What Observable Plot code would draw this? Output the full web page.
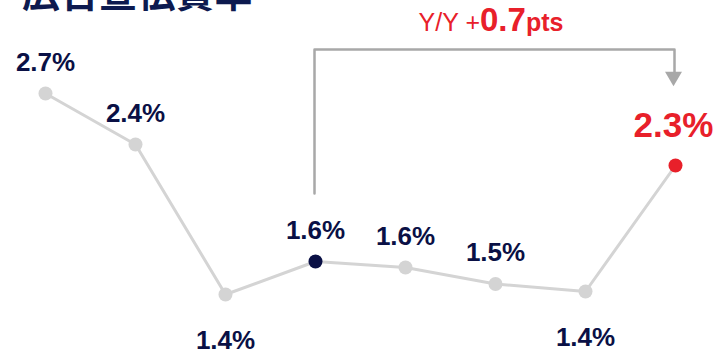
<!DOCTYPE html>
<html>
<head>
<meta charset="utf-8">
<script src="https://cdn.jsdelivr.net/npm/d3@7"></script>
<script src="https://cdn.jsdelivr.net/npm/@observablehq/plot@0.6"></script>
<style>
  html, body { margin: 0; padding: 0; background: #fff; overflow: hidden; }
  #wrap { position: relative; width: 717px; height: 353px; }
  #title {
    position: absolute; left: 22px; top: -28px; margin: 0; z-index: 2;
    font-family: "Noto Sans CJK JP", sans-serif; font-weight: 700;
    font-size: 38px; line-height: 1; color: #0d1a4f; white-space: nowrap; letter-spacing: 0.5px;
  }
  #chart { position: absolute; left: 0; top: 0; z-index: 1; }
</style>
</head>
<body>
<div id="wrap">
  <div id="title">広告宣伝費率</div>
  <div id="chart"></div>
</div>
<script>
// Data
const periods = [0, 1, 2, 3, 4, 5, 6, 7];
const values = [2.74, 2.40, 1.40, 1.62, 1.58, 1.47, 1.42, 2.26];
const highlightIndex = 3;   // comparison point (navy)
const latestIndex = 7;      // latest point (red)
const yoyDelta = 0.7;       // "Y/Y +0.7pts"

const NAVY = "#0a1045";
const RED = "#e8202a";
const GRAY = "#d4d4d4";
const BRACKET = "#a8a8a8";

const fmt = d3.format(".1f");
const data = periods.map((p, i) => {
  const prev = values[i - 1], next = values[i + 1];
  const below = prev !== undefined && next !== undefined && values[i] < prev && values[i] < next;
  return {i: p, v: values[i], label: fmt(values[i]) + "%", below};
});
const normal = data.filter(d => d.i !== latestIndex);
const latest = data.filter(d => d.i === latestIndex);

const gap = 0.453;
const bracketTop = d3.max(values) + 0.293;
const arrowV = values[latestIndex] + gap + 0.14;
const bracket = [
  {i: highlightIndex, v: values[highlightIndex] + gap},
  {i: highlightIndex, v: bracketTop},
  {i: latestIndex, v: bracketTop},
  {i: latestIndex, v: arrowV}
];
const arrowHead = [{i: latestIndex, v: arrowV}];

const plot = Plot.plot({
  width: 717,
  height: 353,
  margin: 0,
  x: {type: "linear", domain: [0, 7], range: [45, 675], axis: null},
  y: {type: "linear", domain: [1.40, 2.74], range: [294, 93], axis: null},
  style: {fontFamily: "'Liberation Sans', Arial, sans-serif", background: "transparent"},
  marks: [
    Plot.line(bracket, {x: "i", y: "v", stroke: BRACKET, strokeWidth: 2.5, dx: -1}),
    Plot.dot(arrowHead, {x: "i", y: "v", symbol: "triangle", rotate: 180, r: 6.3, fill: BRACKET, stroke: "none", dx: -2}),
    Plot.line(data, {x: "i", y: "v", stroke: GRAY, strokeWidth: 3}),
    Plot.dot(data, {x: "i", y: "v", r: 7, fill: d => d.i === highlightIndex ? NAVY : d.i === latestIndex ? RED : GRAY, stroke: "none"}),
    Plot.text(normal.filter(d => !d.below), {x: "i", y: "v", text: "label", lineAnchor: "middle",
      fill: NAVY, fontWeight: "bold", fontSize: 26, textAnchor: "middle", dy: -31}),
    Plot.text(normal.filter(d => d.below), {x: "i", y: "v", text: "label", lineAnchor: "middle",
      fill: NAVY, fontWeight: "bold", fontSize: 26, textAnchor: "middle", dy: 46}),
    Plot.text(latest, {x: "i", y: "v", text: "label", lineAnchor: "middle",
      fill: RED, fontWeight: "bold", fontSize: 35, textAnchor: "middle", dy: -40, dx: -2})
  ]
});

// Y/Y annotation above the bracket
const xs = plot.scale("x"), ys = plot.scale("y");
const cx = (xs.apply(highlightIndex) + xs.apply(latestIndex)) / 2 - 4;
const cy = ys.apply(bracketTop) - 18;
const t = d3.select(plot).append("text")
  .attr("x", cx).attr("y", cy)
  .attr("text-anchor", "middle")
  .attr("fill", RED)
  .attr("font-family", "'Liberation Sans', Arial, sans-serif");
t.append("tspan").attr("font-size", 25).text("Y/Y +");
t.append("tspan").attr("font-size", 33).attr("font-weight", "bold").text(String(yoyDelta));
t.append("tspan").attr("font-size", 25).attr("font-weight", "bold").text("pts");

document.getElementById("chart").appendChild(plot);
</script>
</body>
</html>
